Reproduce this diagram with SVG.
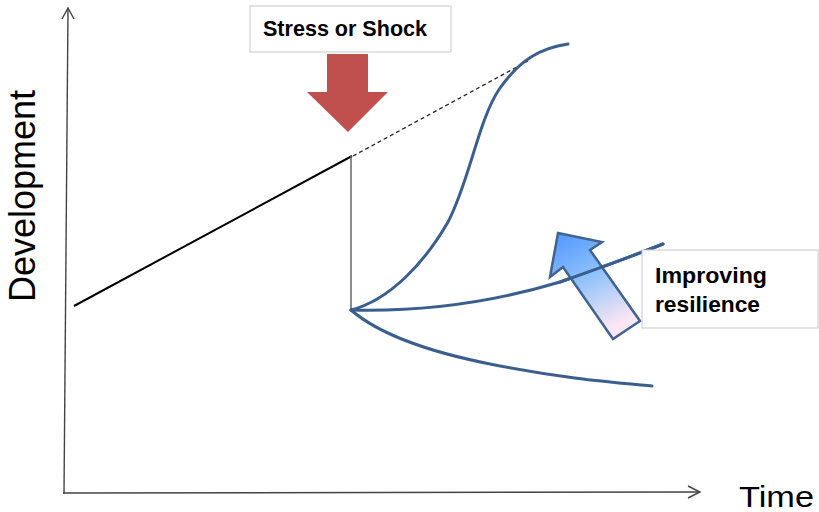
<svg xmlns="http://www.w3.org/2000/svg" width="819" height="512" viewBox="0 0 819 512">
<defs>
<style>
.axis{stroke:#444;stroke-width:1.4;fill:none}
.curve{stroke:#3A5F8F;stroke-width:3;fill:none;stroke-linecap:round}
.lbl{font-family:"Liberation Sans",Arial,sans-serif;fill:#000}
.bold{font-weight:bold;font-size:22px}
.box{fill:#fff;stroke:#c8c8c8;stroke-width:1}
</style>
<linearGradient id="g" x1="0" y1="0" x2="0.4" y2="1">
<stop offset="0" stop-color="#4F94FF"/>
<stop offset="0.5" stop-color="#8EC2FA"/>
<stop offset="1" stop-color="#FBE6F4"/>
</linearGradient>
</defs>
<rect width="819" height="512" fill="#fff"/>
<g id="axes">
<line class="axis" x1="64" y1="494" x2="68" y2="9"/>
<polyline class="axis" points="62,19 68,8 74,19"/>
<line class="axis" x1="63" y1="493" x2="699" y2="492"/>
<polyline class="axis" points="688,486 700,492 688,498"/>
</g>
<g id="axis-labels">
<text class="lbl" x="35" y="302" font-size="36" transform="rotate(-90 35 302)" textLength="212" lengthAdjust="spacingAndGlyphs">Development</text>
<text class="lbl" x="739" y="507" font-size="30" textLength="75" lengthAdjust="spacingAndGlyphs">Time</text>
</g>
<g id="connectors">
<line x1="74" y1="306" x2="352" y2="156" stroke="#000" stroke-width="2"/>
<line x1="351" y1="156" x2="351" y2="310" stroke="#666" stroke-width="1.5"/>
<line x1="353" y1="156" x2="528" y2="61" stroke="#222" stroke-width="1.3" stroke-dasharray="4,3"/>
</g>
<g id="curves">
<path class="curve" d="M351,310 C390,300 425,262 448,222 C470,180 478,120 500,88 C520,60 540,48 568,44"/>
<path class="curve" d="M351,310 C430,312 500,300 560,282 C600,268 635,255 663,244"/>
<path class="curve" d="M351,310 C380,335 430,352 490,364 C560,378 610,382 652,386"/>
</g>
<g id="resilience-arrow">
<path d="M558,233 L602,242 L590,250 L640,321 L613,339 L563,267 L550,277 Z" fill="url(#g)" stroke="#41648F" stroke-width="2.5" stroke-linejoin="miter"/>
</g>
<path class="curve" d="M560,282 C600,268 635,255 663,244"/>
<g id="stress-box">
<rect class="box" x="250" y="6" width="201" height="46"/>
<text class="lbl bold" x="263" y="36" textLength="164" lengthAdjust="spacingAndGlyphs">Stress or Shock</text>
</g>
<g id="stress-arrow">
<path d="M327,54 L368,54 L368,92 L388,92 L348,132 L307,92 L327,92 Z" fill="#C0504D"/>
</g>
<g id="resilience-box">
<rect class="box" x="642" y="250" width="176" height="78"/>
<text class="lbl bold" x="655" y="283" textLength="112" lengthAdjust="spacingAndGlyphs">Improving</text>
<text class="lbl bold" x="655" y="312" textLength="105" lengthAdjust="spacingAndGlyphs">resilience</text>
</g>
</svg>
